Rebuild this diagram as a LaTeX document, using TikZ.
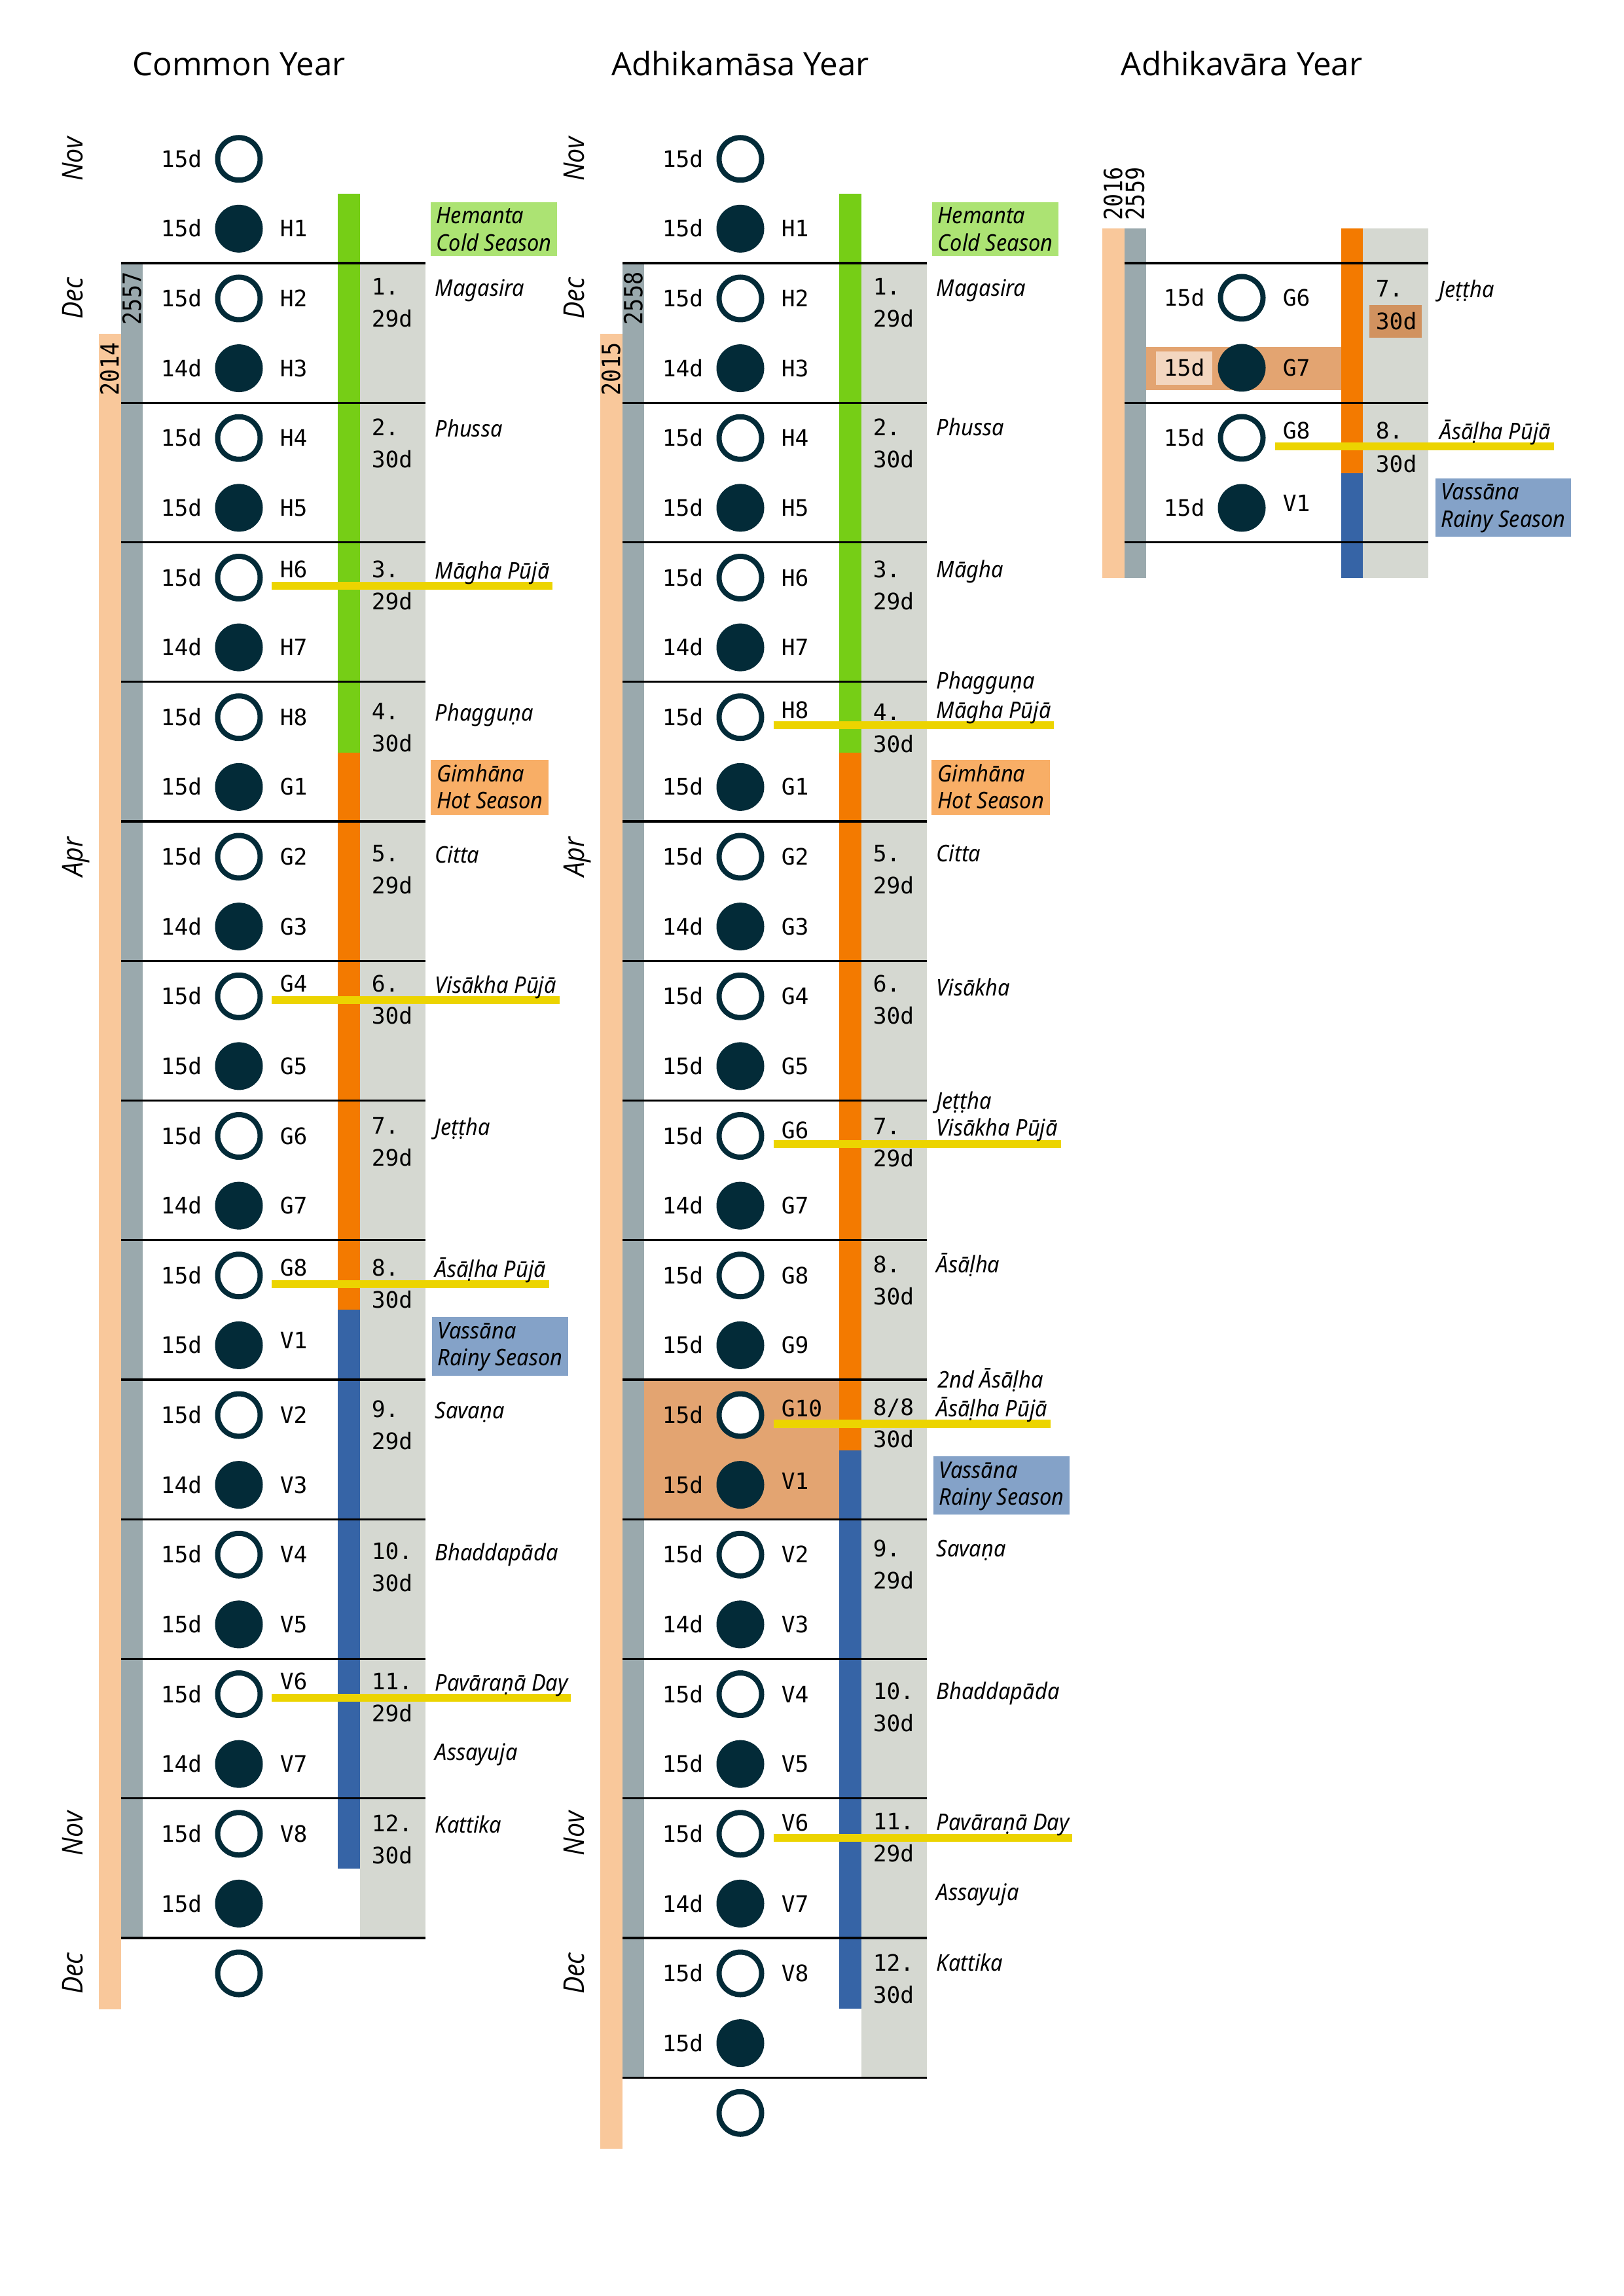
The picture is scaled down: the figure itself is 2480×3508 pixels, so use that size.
\documentclass[tikz,border=0pt]{standalone}
\usepackage{fontspec}
\setmainfont{Open Sans}
\newfontfamily\itlabfont{Noto Sans}[FakeStretch=0.93]
\newfontfamily\monthfont{Open Sans}[FakeStretch=0.9]
\newfontfamily\monofont{DejaVu Sans Mono}
\newfontfamily\yearfont{DejaVu Sans Mono}[FakeStretch=0.87]
\pgfdeclarelayer{bg}
\pgfdeclarelayer{mid}
\pgfsetlayers{bg,mid,main}
\definecolor{yorange}{HTML}{F9C89B}
\definecolor{ygray}{HTML}{9AA9AD}
\definecolor{sgreen}{HTML}{76CE16}
\definecolor{sorange}{HTML}{F37A00}
\definecolor{sblue}{HTML}{3664A6}
\definecolor{colgray}{HTML}{D5D8D1}
\definecolor{hembox}{HTML}{ACE373}
\definecolor{gimbox}{HTML}{F8AE66}
\definecolor{vasbox}{HTML}{84A2C8}
\definecolor{fyellow}{HTML}{ECD400}
\definecolor{hltan}{HTML}{E3A471}
\definecolor{hllight}{HTML}{F3D6BF}
\definecolor{boxthirty}{HTML}{D1925F}
\definecolor{moon}{HTML}{032B38}
\tikzset{
  mline/.style={line width=0.8pt, draw=black},
  feastline/.style={line width=3pt, draw=fyellow},
  opencirc/.style={circle, draw=moon, fill=white, line width=1.92pt, minimum size=15.6pt, inner sep=0pt},
  darkcirc/.style={circle, draw=moon, fill=moon, line width=1.92pt, minimum size=15.6pt, inner sep=0pt},
  mono/.style={font=\monofont\fontsize{8.3}{10}\selectfont, inner sep=0pt, text height=6.05pt, text depth=0pt, anchor=west},
  itl/.style={font=\itlabfont\itshape\fontsize{8.4}{10}\selectfont, inner sep=0pt, text height=6pt, text depth=0pt, anchor=west},
  monthlab/.style={font=\monthfont\itshape\fontsize{10.5}{12}\selectfont, inner sep=0pt, rotate=90, text height=7.5pt, text depth=0pt},
  yearlab/.style={font=\yearfont\fontsize{9.2}{11}\selectfont, inner sep=0pt, rotate=90, text height=6.7pt, text depth=0pt},
  ttl/.style={font=\fontsize{11.8}{14}\selectfont, inner sep=0pt, anchor=base},
}
\begin{document}
\begin{tikzpicture}[x=0.24pt,y=-0.24pt]
\path[use as bounding box] (0,0) rectangle (2480,3508);

% ---------------- titles
\node[ttl] (t1) at (365,116) {Common Year};
\node[ttl] (t2) at (1131,116) {Adhikamāsa Year};
\node[ttl] (t3) at (1897,116) {Adhikavāra Year};

% ---------------- background bars and lines
\begin{pgfonlayer}{bg}
  % common year
  \fill[yorange] (151,510) rectangle (185,3070);
  \fill[ygray] (185,402) rectangle (218,2961);
  \fill[sgreen] (516,296) rectangle (550,1150);
  \fill[sorange] (516,1150) rectangle (550,2001);
  \fill[sblue] (516,2001) rectangle (550,2855);
  \fill[colgray] (550,402) rectangle (650,2961);
  \fill[hembox] (658,309) rectangle (851,391);
  \fill[gimbox] (658,1161) rectangle (838,1245);
  \fill[vasbox] (660,2012) rectangle (868,2102);
  \foreach \i in {0,...,12} \draw[mline] (185,{402+213.25*\i}) -- (650,{402+213.25*\i});
  % adhikamasa year
  \fill[yorange] (917,510) rectangle (951,3283);
  \fill[ygray] (951,402) rectangle (984,3174);
  \fill[hltan] (984,2108) rectangle (1282,2321.25);
  \fill[sgreen] (1282,296) rectangle (1316,1150);
  \fill[sorange] (1282,1150) rectangle (1316,2216);
  \fill[sblue] (1282,2216) rectangle (1316,3069);
  \fill[colgray] (1316,402) rectangle (1416,3174);
  \fill[hembox] (1424,309) rectangle (1617,391);
  \fill[gimbox] (1423,1161) rectangle (1604,1245);
  \fill[vasbox] (1426,2225) rectangle (1634,2314);
  \foreach \i in {0,...,13} \draw[mline] (951,{402+213.25*\i}) -- (1416,{402+213.25*\i});
  % adhikavara year
  \fill[yorange] (1683.5,349.5) rectangle (1717.5,883);
  \fill[ygray] (1717.5,349.5) rectangle (1750.5,883);
  \fill[hltan] (1750.5,530) rectangle (2049,596);
  \fill[hllight] (1766,537) rectangle (1852,588);
  \fill[sorange] (2049,349.5) rectangle (2082,723);
  \fill[sblue] (2049,723) rectangle (2082,883);
  \fill[colgray] (2082,349.5) rectangle (2182,883);
  \fill[boxthirty] (2091.5,466.5) rectangle (2172,515.6);
  \fill[vasbox] (2192.5,731) rectangle (2400,820.5);
  \foreach \i in {0,...,2} \draw[mline] (1717.5,{402+213.25*\i}) -- (2182,{402+213.25*\i});
\end{pgfonlayer}

% ---------------- rotated month and year labels
\foreach \lab/\yy [count=\j] in {Nov/243,Dec/456,Apr/1309,Nov/2801,Dec/3015}{
  \node[monthlab] (mla\j) at (111,\yy) {\lab};
  \node[monthlab] (mlb\j) at (877,\yy) {\lab};
}
\node[yearlab] (ya1) at (201.5,456) {2557};
\node[yearlab] (ya2) at (167.5,564) {2014};
\node[yearlab] (yb1) at (967.5,456) {2558};
\node[yearlab] (yb2) at (933.5,564) {2015};
\node[yearlab] (yc1) at (1700.5,296) {2016};
\node[yearlab] (yc2) at (1734,296) {2559};

% ================= COMMON YEAR
\foreach \k in {0,...,26}{
  \pgfmathsetmacro\cy{242.75+106.625*\k}
  \ifodd\k\relax
    \node[darkcirc] (ca\k) at (365,\cy) {};
  \else
    \node[opencirc] (ca\k) at (365,\cy) {};
  \fi
}
\foreach \k/\d in {0/15d,1/15d,2/15d,3/14d,4/15d,5/15d,6/15d,7/14d,8/15d,9/15d,10/15d,11/14d,12/15d,13/15d,14/15d,15/14d,16/15d,17/15d,18/15d,19/14d,20/15d,21/15d,22/15d,23/14d,24/15d,25/15d}{
  \pgfmathsetmacro\cy{242.75+106.625*\k}
  \node[mono] (da\k) at (245,\cy) {\d};
}
\foreach \k/\l/\dy in {1/H1/0,2/H2/0,3/H3/0,4/H4/0,5/H5/0,6/H6/-12.5,7/H7/0,8/H8/0,9/G1/0,10/G2/0,11/G3/0,12/G4/-19,13/G5/0,14/G6/0,15/G7/0,16/G8/-12,17/V1/-7,18/V2/0,19/V3/0,20/V4/0,21/V5/0,22/V6/-19.5,23/V7/0,24/V8/0}{
  \pgfmathsetmacro\cy{242.75+106.625*\k+\dy}
  \node[mono] (la\k) at (427,\cy) {\l};
}
\foreach \m/\n/\d/\N/\t in {1/1./29d/438/Magasira,2/2./30d/653/Phussa,3/3./29d/870/Māgha Pūjā,4/4./30d/1087/Phagguṇa,5/5./29d/1304/Citta,6/6./30d/1503/Visākha Pūjā,7/7./29d/1720/Jeṭṭha,8/8./30d/1937/Āsāḷha Pūjā,9/9./29d/2153/Savaṇa,10/10./30d/2370/Bhaddapāda,11/11./29d/2569/Pavāraṇā Day,12/12./30d/2786/Kattika}{
  \node[mono] (na\m) at (567,\N) {\n};
  \node[mono] (ea\m) at (567,{\N+49}) {\d};
  \node[itl] (ma\m) at (664,{\N+2}) {\t};
}
\node[itl] (maX) at (664,2677) {Assayuja};
\node[itl] (hemA1) at (666,329.5) {Hemanta};
\node[itl] (hemA2) at (666,371) {Cold Season};
\node[itl] (gimA1) at (666.5,1181.5) {Gimhāna};
\node[itl] (gimA2) at (666.5,1223) {Hot Season};
\node[itl] (vasA1) at (668,2032.5) {Vassāna};
\node[itl] (vasA2) at (668,2074) {Rainy Season};
\coordinate (fa3) at (415,895);
\coordinate (fa6) at (415,1528);
\coordinate (fa8) at (415,1962);
\coordinate (fa11) at (415,2594);
\begin{pgfonlayer}{mid}
  \foreach \m in {3,6,8,11} \draw[feastline] (fa\m) -- (fa\m -| ma\m.east) -- ++(4,0);
\end{pgfonlayer}

% ================= ADHIKAMASA YEAR
\foreach \k in {0,...,28}{
  \pgfmathsetmacro\cy{242.75+106.625*\k}
  \ifodd\k\relax
    \node[darkcirc] (cb\k) at (1131,\cy) {};
  \else
    \node[opencirc] (cb\k) at (1131,\cy) {};
  \fi
}
\foreach \k/\d in {0/15d,1/15d,2/15d,3/14d,4/15d,5/15d,6/15d,7/14d,8/15d,9/15d,10/15d,11/14d,12/15d,13/15d,14/15d,15/14d,16/15d,17/15d,18/15d,19/15d,20/15d,21/14d,22/15d,23/15d,24/15d,25/14d,26/15d,27/15d}{
  \pgfmathsetmacro\cy{242.75+106.625*\k}
  \node[mono] (db\k) at (1011,\cy) {\d};
}
\foreach \k/\l/\dy in {1/H1/0,2/H2/0,3/H3/0,4/H4/0,5/H5/0,6/H6/0,7/H7/0,8/H8/-11,9/G1/0,10/G2/0,11/G3/0,12/G4/0,13/G5/0,14/G6/-8.5,15/G7/0,16/G8/0,17/G9/0,18/G10/-10,19/V1/-5.6,20/V2/0,21/V3/0,22/V4/0,23/V5/0,24/V6/-17,25/V7/0,26/V8/0}{
  \pgfmathsetmacro\cy{242.75+106.625*\k+\dy}
  \node[mono] (lb\k) at (1193,\cy) {\l};
}
\foreach \m/\n/\d/\N in {1/1./29d/438,2/2./30d/653,3/3./29d/870,4/4./30d/1088,5/5./29d/1304,6/6./30d/1503,7/7./29d/1721,8/8./30d/1932,10/9./29d/2366,11/10./30d/2584,12/11./29d/2783,13/12./30d/2999}{
  \node[mono] (nb\m) at (1333,\N) {\n};
  \node[mono] (eb\m) at (1333,{\N+49}) {\d};
}
\node[mono] (nb9) at (1333,2150) {8/8};
\node[mono] (eb9) at (1333,2199) {30d};
\foreach \m/\N/\t in {1/440/Magasira,2/653/Phussa,3/870/Māgha,4/1085/Māgha Pūjā,5/1304/Citta,6/1509/Visākha,7/1723/Visākha Pūjā,8/1932/Āsāḷha,9/2152/Āsāḷha Pūjā,10/2366/Savaṇa,11/2584/Bhaddapāda,12/2784/Pavāraṇā Day,13/2999/Kattika}{
  \node[itl] (mb\m) at (1430,\N) {\t};
}
\node[itl] (mbA) at (1430,1040) {Phagguṇa};
\node[itl] (mbB) at (1430,1682) {Jeṭṭha};
\node[itl] (mbC) at (1432,2108) {2nd Āsāḷha};
\node[itl] (mbD) at (1430,2891) {Assayuja};
\node[itl] (hemB1) at (1432,329.5) {Hemanta};
\node[itl] (hemB2) at (1432,371) {Cold Season};
\node[itl] (gimB1) at (1432,1181.5) {Gimhāna};
\node[itl] (gimB2) at (1432,1223) {Hot Season};
\node[itl] (vasB1) at (1434,2245.5) {Vassāna};
\node[itl] (vasB2) at (1434,2287) {Rainy Season};
\coordinate (fb4) at (1181.5,1108);
\coordinate (fb7) at (1181.5,1748);
\coordinate (fb9) at (1181.5,2175.5);
\coordinate (fb12) at (1181.5,2808);
\begin{pgfonlayer}{mid}
  \foreach \m in {4,7,9,12} \draw[feastline] (fb\m) -- (fb\m -| mb\m.east) -- ++(4,0);
\end{pgfonlayer}

% ================= ADHIKAVARA YEAR
\node[opencirc] (cc1) at (1897,455) {};
\node[darkcirc] (cc2) at (1897,562) {};
\node[opencirc] (cc3) at (1897,669) {};
\node[darkcirc] (cc4) at (1897,776) {};
\node[mono] (dc1) at (1777,455) {15d};
\node[mono] (dc2) at (1777,562) {15d};
\node[mono] (dc3) at (1777,669) {15d};
\node[mono] (dc4) at (1777,776) {15d};
\node[mono] (lc1) at (1959,455) {G6};
\node[mono] (lc2) at (1959,562) {G7};
\node[mono] (lc3) at (1959,657.6) {G8};
\node[mono] (lc4) at (1959,769) {V1};
\node[mono] (nc1) at (2101,441) {7.};
\node[mono] (ec1) at (2101,491) {30d};
\node[mono] (nc2) at (2101,657.6) {8.};
\node[mono] (ec2) at (2101,709) {30d};
\node[itl] (mc1) at (2198,442) {Jeṭṭha};
\node[itl] (mc2) at (2199,659) {Āsāḷha Pūjā};
\node[itl] (vasC1) at (2200.5,751.5) {Vassāna};
\node[itl] (vasC2) at (2200.5,793) {Rainy Season};
\coordinate (fc2) at (1948,682);
\begin{pgfonlayer}{mid}
  \draw[feastline] (fc2) -- (fc2 -| mc2.east) -- ++(4,0);
\end{pgfonlayer}
\end{tikzpicture}
\end{document}
